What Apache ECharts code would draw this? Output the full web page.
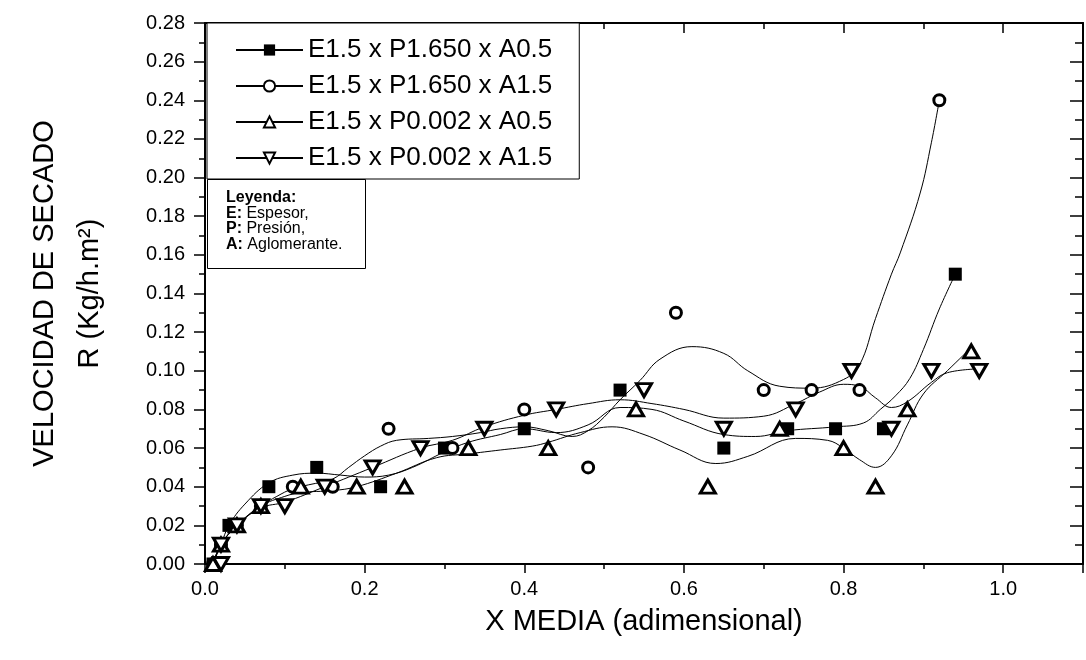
<!DOCTYPE html>
<html>
<head>
<meta charset="utf-8">
<script src="https://cdn.jsdelivr.net/npm/echarts@6/dist/echarts.min.js"></script>
<style>
  html, body { margin: 0; padding: 0; background: #fff; }
  #chart { width: 1086px; height: 660px; }
</style>
</head>
<body>
<div id="chart"></div>
<script>
// nombres de las series (leyenda)
const seriesNames = ['E1.5 x P1.650 x A0.5', 'E1.5 x P1.650 x A1.5', 'E1.5 x P0.002 x A0.5', 'E1.5 x P0.002 x A1.5'];

// puntos medidos
const sqX = [0.01, 0.02, 0.03, 0.08, 0.14, 0.22, 0.30, 0.40, 0.52, 0.65, 0.73, 0.79, 0.85, 0.94];
const sqY = [0.00, 0.01, 0.02, 0.04, 0.05, 0.04, 0.06, 0.07, 0.09, 0.06, 0.07, 0.07, 0.07, 0.15];
const ciX = [0.01, 0.02, 0.04, 0.07, 0.11, 0.16, 0.23, 0.31, 0.40, 0.48, 0.59, 0.70, 0.76, 0.82, 0.92];
const ciY = [0.00, 0.01, 0.02, 0.03, 0.04, 0.04, 0.07, 0.06, 0.08, 0.05, 0.13, 0.09, 0.09, 0.09, 0.24];
const upX = [0.01, 0.02, 0.04, 0.07, 0.12, 0.19, 0.25, 0.33, 0.43, 0.54, 0.63, 0.72, 0.80, 0.84, 0.88, 0.96];
const upY = [0.00, 0.01, 0.02, 0.03, 0.04, 0.04, 0.04, 0.06, 0.06, 0.08, 0.04, 0.07, 0.06, 0.04, 0.08, 0.11];
const dnX = [0.02, 0.02, 0.04, 0.07, 0.10, 0.15, 0.21, 0.27, 0.35, 0.44, 0.55, 0.65, 0.74, 0.81, 0.86, 0.91, 0.97];
const dnY = [0.00, 0.01, 0.02, 0.03, 0.03, 0.04, 0.05, 0.06, 0.07, 0.08, 0.09, 0.07, 0.08, 0.10, 0.07, 0.10, 0.10];

// curvas de ajuste
const sqCurveX = [0.01, 0.02, 0.03, 0.05, 0.08, 0.11, 0.14, 0.17, 0.20, 0.23, 0.26, 0.30, 0.33, 0.37, 0.40, 0.44, 0.48, 0.52, 0.56, 0.60, 0.65, 0.69, 0.73, 0.79, 0.825, 0.846, 0.865, 0.883, 0.90, 0.92, 0.94];
const sqCurveY = [0.000, 0.010, 0.020, 0.031, 0.042, 0.046, 0.047, 0.046, 0.045, 0.046, 0.050, 0.058, 0.063, 0.067, 0.070, 0.068, 0.072, 0.081, 0.080, 0.074, 0.067, 0.066, 0.069, 0.071, 0.073, 0.080, 0.087, 0.096, 0.111, 0.132, 0.150];
const ciCurveX = [0.01, 0.02, 0.04, 0.07, 0.09, 0.11, 0.13, 0.16, 0.18, 0.20, 0.22, 0.24, 0.28, 0.31, 0.345, 0.37, 0.40, 0.43, 0.46, 0.48, 0.50, 0.52, 0.545, 0.57, 0.61, 0.65, 0.68, 0.72, 0.76, 0.80, 0.82, 0.84, 0.86, 0.871, 0.896, 0.91, 0.92];
const ciCurveY = [0.000, 0.010, 0.020, 0.030, 0.035, 0.039, 0.041, 0.044, 0.050, 0.056, 0.061, 0.064, 0.065, 0.066, 0.068, 0.070, 0.071, 0.069, 0.066, 0.069, 0.076, 0.085, 0.095, 0.106, 0.1125, 0.109, 0.100, 0.092, 0.091, 0.0955, 0.103, 0.127, 0.150, 0.161, 0.192, 0.218, 0.240];
const upCurveX = [0.01, 0.02, 0.04, 0.07, 0.10, 0.12, 0.16, 0.19, 0.24, 0.29, 0.33, 0.37, 0.41, 0.43, 0.47, 0.51, 0.55, 0.595, 0.64, 0.68, 0.74, 0.78, 0.80, 0.82, 0.84, 0.86, 0.88, 0.90, 0.93, 0.96];
const upCurveY = [0.000, 0.010, 0.020, 0.030, 0.035, 0.037, 0.038, 0.040, 0.047, 0.055, 0.057, 0.059, 0.061, 0.063, 0.068, 0.071, 0.067, 0.059, 0.052, 0.0557, 0.065, 0.064, 0.060, 0.054, 0.050, 0.056, 0.072, 0.088, 0.100, 0.112];
const dnCurveX = [0.01, 0.02, 0.04, 0.07, 0.10, 0.15, 0.21, 0.27, 0.31, 0.35, 0.40, 0.44, 0.48, 0.52, 0.56, 0.60, 0.65, 0.70, 0.74, 0.77, 0.80, 0.82, 0.84, 0.86, 0.88, 0.91, 0.93, 0.97];
const dnCurveY = [0.000, 0.010, 0.020, 0.029, 0.032, 0.040, 0.050, 0.060, 0.064, 0.071, 0.077, 0.080, 0.083, 0.085, 0.083, 0.080, 0.0755, 0.0765, 0.083, 0.089, 0.093, 0.092, 0.086, 0.081, 0.084, 0.094, 0.099, 0.101];

const FONT = '"Liberation Sans", Arial, sans-serif';
const pairs = (xs, ys) => xs.map((x, i) => [x, ys[i]]);

const points = [[sqX, sqY], [ciX, ciY], [upX, upY], [dnX, dnY]];
const curves = [[sqCurveX, sqCurveY], [ciCurveX, ciCurveY], [upCurveX, upCurveY], [dnCurveX, dnCurveY]];
const marks = [
  { symbol: 'rect', legendSymbol: 'rect', size: [13, 13], rotate: 0, fill: '#000' },
  { symbol: 'circle', legendSymbol: 'emptyCircle', size: [11, 11], rotate: 0, fill: '#fff' },
  { symbol: 'triangle', legendSymbol: 'emptyTriangle', size: [15, 13], rotate: 0, fill: '#fff' },
  { symbol: 'triangle', legendSymbol: 'emptyTriangle', size: [15, 13], rotate: 180, fill: '#fff' }
];

const series = [];
// curvas primero, para que la leyenda tome su icono (linea + simbolo)
seriesNames.forEach((name, i) => {
  series.push({
    name: name, type: 'line', data: pairs(curves[i][0], curves[i][1]),
    smooth: 0.4, showSymbol: false, symbol: marks[i].legendSymbol, symbolRotate: marks[i].rotate,
    lineStyle: { color: '#000', width: 1 }, itemStyle: { color: '#000' },
    z: 2, silent: true, animation: false
  });
});
seriesNames.forEach((name, i) => {
  series.push({
    name: name, type: 'scatter', data: pairs(points[i][0], points[i][1]),
    symbol: marks[i].symbol, symbolSize: marks[i].size, symbolRotate: marks[i].rotate,
    itemStyle: { color: marks[i].fill, borderColor: '#000', borderWidth: marks[i].fill === '#fff' ? 3 : 0, opacity: 1 },
    z: 3, silent: true, animation: false
  });
});

const axisLineStyle = { color: '#000', width: 2 };
const tickStyle = { color: '#000', width: 1.5 };

const chart = echarts.init(document.getElementById('chart'), null, { renderer: 'canvas' });
chart.setOption({
  backgroundColor: '#fff',
  animation: false,
  grid: { left: 205, right: 3, top: 23, bottom: 96, containLabel: false, outerBoundsMode: 'none' },
  legend: {
    data: seriesNames, orient: 'vertical', left: 207, top: 23,
    padding: [14, 27, 8, 28], itemGap: 10, itemWidth: 67, itemHeight: 14,
    borderColor: '#000', borderWidth: 1, backgroundColor: '#fff',
    textStyle: { fontFamily: FONT, fontSize: 26, color: '#000', lineHeight: 26 },
    selectedMode: false, z: 10
  },
  graphic: [{
    type: 'group', left: 207, top: 179, z: 10,
    children: [
      { type: 'rect', shape: { x: 0.5, y: 0.5, width: 158, height: 89 }, style: { fill: '#fff', stroke: '#000', lineWidth: 1 } },
      { type: 'text', x: 19, y: 11, style: {
          text: '{b|Leyenda:}\n{b|E:} Espesor,\n{b|P:} Presión,\n{b|A:} Aglomerante.',
          fontFamily: FONT, fontSize: 16, lineHeight: 15.5, fill: '#000',
          rich: { b: { fontFamily: FONT, fontSize: 16, lineHeight: 15.5, fontWeight: 'bold', fill: '#000' } }
      } }
    ]
  }],
  xAxis: [
    { type: 'value', min: 0, max: 1.1, interval: 0.2, position: 'bottom',
      name: 'X MEDIA (adimensional)', nameLocation: 'middle', nameGap: 43, nameMoveOverlap: false,
      nameTextStyle: { fontFamily: FONT, fontSize: 29, color: '#000' },
      axisLine: { onZero: false, lineStyle: axisLineStyle },
      axisTick: { length: 9, lineStyle: tickStyle },
      axisLabel: { fontFamily: FONT, fontSize: 20, color: '#000', margin: 15, formatter: v => v > 1.05 ? '' : v.toFixed(1) },
      splitLine: { show: false } },
    { type: 'value', min: 0, max: 1.1, interval: 0.1, position: 'bottom',
      axisLine: { show: false, onZero: false }, axisTick: { length: 5, lineStyle: tickStyle },
      axisLabel: { show: false }, splitLine: { show: false } },
    { type: 'value', min: 0, max: 1.1, interval: 0.2, position: 'top',
      axisLine: { onZero: false, lineStyle: axisLineStyle }, axisTick: { inside: true, length: 10, lineStyle: tickStyle },
      axisLabel: { show: false }, splitLine: { show: false } },
    { type: 'value', min: 0, max: 1.1, interval: 0.1, position: 'top',
      axisLine: { show: false, onZero: false }, axisTick: { inside: true, length: 6, lineStyle: tickStyle },
      axisLabel: { show: false }, splitLine: { show: false } }
  ],
  yAxis: [
    { type: 'value', min: 0, max: 0.28, interval: 0.02, position: 'left',
      name: 'VELOCIDAD DE SECADO\nR (Kg/h.m²)', nameLocation: 'middle', nameGap: 93, nameMoveOverlap: false,
      nameTextStyle: { fontFamily: FONT, fontSize: 29, color: '#000', lineHeight: 45 },
      axisLine: { onZero: false, lineStyle: axisLineStyle },
      axisTick: { length: 11, lineStyle: tickStyle },
      minorTick: { show: true, splitNumber: 2, length: 6, lineStyle: tickStyle },
      axisLabel: { fontFamily: FONT, fontSize: 20, color: '#000', margin: 20, formatter: v => v.toFixed(2) },
      splitLine: { show: false }, minorSplitLine: { show: false } },
    { type: 'value', min: 0, max: 0.28, interval: 0.02, position: 'right',
      axisLine: { onZero: false, lineStyle: axisLineStyle },
      axisTick: { inside: true, length: 13, lineStyle: tickStyle },
      minorTick: { show: true, splitNumber: 2, length: 8, lineStyle: tickStyle },
      axisLabel: { show: false }, splitLine: { show: false }, minorSplitLine: { show: false } }
  ],
  series: series
});
</script>
</body>
</html>
